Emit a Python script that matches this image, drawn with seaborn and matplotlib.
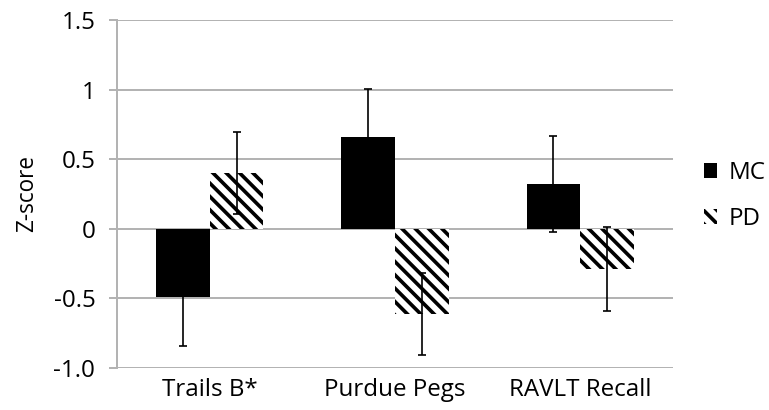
import pandas as pd
import numpy as np
import matplotlib
matplotlib.use("Agg")
import matplotlib.pyplot as plt
import seaborn as sns

# Data
categories = ["Trails B*", "Purdue Pegs", "RAVLT Recall"]
groups = ["MC", "PD"]
mc_values = [-0.49, 0.66, 0.32]
pd_values = [0.40, -0.61, -0.29]
mc_err = [0.35, 0.345, 0.345]
pd_err = [0.295, 0.295, 0.30]
y_ticks = [-1.0, -0.5, 0, 0.5, 1, 1.5]
y_tick_labels = ["-1.0", "-0.5", "0", "0.5", "1", "1.5"]

df = pd.DataFrame({
    "test": categories * 2,
    "group": ["MC"] * 3 + ["PD"] * 3,
    "z": mc_values + pd_values,
    "err": mc_err + pd_err,
})

sns.set_style("white")
plt.rcParams["font.family"] = ["Open Sans", "DejaVu Sans"]
plt.rcParams["hatch.linewidth"] = 2.2

dpi = 120
fig = plt.figure(figsize=(769 / dpi, 410 / dpi), dpi=dpi)
ax = fig.add_axes([117 / 769, 1 - 368 / 410, 556 / 769, 348 / 410])

sns.barplot(data=df, x="test", y="z", hue="group", hue_order=groups,
            palette={"MC": "black", "PD": "white"}, width=0.58, gap=0,
            errorbar=None, ax=ax, zorder=2)

# hatch the PD bars
for bar in ax.containers[1]:
    bar.set_hatch("\\\\\\")
    bar.set_edgecolor("black")
    bar.set_linewidth(0)
for bar in ax.containers[0]:
    bar.set_linewidth(0)

# error bars
for cont, g in zip(ax.containers, groups):
    sub = df[df["group"] == g]
    xs = [b.get_x() + b.get_width() / 2 for b in cont]
    ax.errorbar(xs, sub["z"], yerr=sub["err"], fmt="none", ecolor="black",
                elinewidth=1.0, capsize=2.6, capthick=1.0, zorder=3)

ax.set_ylim(-1.0, 1.5)
ax.set_xlim(-0.5, 2.5)
ax.set_yticks(y_ticks)
ax.set_yticklabels(y_tick_labels)
ax.yaxis.grid(True, color="#b3b3b3", linewidth=1.2, zorder=0)
ax.set_axisbelow(True)
for s in ["top", "right", "bottom"]:
    ax.spines[s].set_visible(False)
ax.spines["left"].set_color("#b3b3b3")
ax.spines["left"].set_linewidth(1.2)
ax.tick_params(axis="y", left=True, length=5, width=1.2, color="#b3b3b3",
               pad=8, labelsize=14.5, labelcolor="black")
ax.tick_params(axis="x", length=0, pad=6, labelsize=14.5, labelcolor="black")
ax.set_xlabel("")
ax.set_ylabel("Z-score", fontsize=13.5, color="black")
ax.yaxis.set_label_coords(-0.14, 0.5)

ax.get_legend().remove()
handles = [ax.containers[0][0], ax.containers[1][0]]
fig.legend(handles, groups, loc="center left",
           bbox_to_anchor=(704 / 769, 1 - 196 / 410), frameon=False,
           fontsize=14.5, handlelength=0.55, handleheight=0.55,
           handletextpad=0.45, labelspacing=0.9, borderpad=0,
           borderaxespad=0, labelcolor="black")

fig.savefig("out.png", dpi=dpi)
